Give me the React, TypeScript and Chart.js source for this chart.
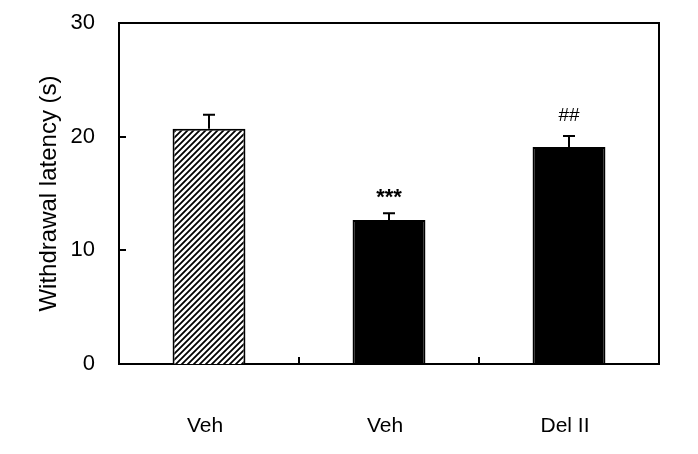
import React, { useEffect, useRef } from "react";
import { Chart, registerables } from "chart.js";

Chart.register(...registerables);

const categories = ["Veh", "Veh", "Del II"];
const means = [20.7, 12.67, 19.08];
const errors = [1.23, 0.59, 0.97];
const marks = ["", "***", "##"];
const yTickValues = [0, 10, 20, 30];
const yTitle = "Withdrawal latency (s)";

const FONT = "'Liberation Sans', Arial, sans-serif";

function makeHatch(): CanvasPattern | string {
  const c = document.createElement("canvas");
  c.width = 6;
  c.height = 6;
  const g = c.getContext("2d");
  if (!g) return "#fff";
  g.fillStyle = "#fff";
  g.fillRect(0, 0, 6, 6);
  g.strokeStyle = "#000";
  g.lineWidth = 1.8;
  g.beginPath();
  g.moveTo(0, 6);
  g.lineTo(6, 0);
  g.moveTo(-1, 1);
  g.lineTo(1, -1);
  g.moveTo(5, 7);
  g.lineTo(7, 5);
  g.stroke();
  return g.createPattern(c, "repeat") || "#fff";
}

const decorPlugin = {
  id: "decor",
  afterDatasetsDraw(chart: any) {
    const { ctx, chartArea } = chart;
    const xs = chart.scales.x;
    const ys = chart.scales.y;
    ctx.save();
    ctx.strokeStyle = "#000";
    ctx.fillStyle = "#000";
    ctx.lineWidth = 2;
    ctx.beginPath();
    ctx.moveTo(chartArea.left, chartArea.top);
    ctx.lineTo(chartArea.right, chartArea.top);
    ctx.lineTo(chartArea.right, chartArea.bottom);
    ctx.stroke();
    yTickValues.forEach((v) => {
      if (v === ys.min || v === ys.max) return;
      const py = Math.round(ys.getPixelForValue(v));
      ctx.beginPath();
      ctx.moveTo(chartArea.left, py);
      ctx.lineTo(chartArea.left + 7, py);
      ctx.stroke();
    });
    for (let i = 0; i < categories.length - 1; i++) {
      const px = Math.round((xs.getPixelForValue(i) + xs.getPixelForValue(i + 1)) / 2);
      ctx.beginPath();
      ctx.moveTo(px, chartArea.bottom);
      ctx.lineTo(px, chartArea.bottom - 7);
      ctx.stroke();
    }
    const meta = chart.getDatasetMeta(0);
    meta.data.forEach((bar: any, i: number) => {
      const x = bar.x;
      const yTop = ys.getPixelForValue(means[i]);
      const yErr = ys.getPixelForValue(means[i] + errors[i]);
      ctx.lineWidth = 2;
      ctx.beginPath();
      ctx.moveTo(x, yTop);
      ctx.lineTo(x, yErr);
      ctx.moveTo(x - 6, yErr);
      ctx.lineTo(x + 6, yErr);
      ctx.stroke();
      const m = marks[i];
      if (m) {
        ctx.textAlign = "center";
        ctx.textBaseline = "alphabetic";
        if (m.startsWith("*")) {
          ctx.font = `bold 22px ${FONT}`;
          ctx.fillText(m, x, yErr - 9);
        } else {
          ctx.font = `19px ${FONT}`;
          ctx.fillText(m, x, yErr - 15);
        }
      }
    });
    ctx.restore();
  },
};

export default function App() {
  const ref = useRef<HTMLCanvasElement | null>(null);
  useEffect(() => {
    if (!ref.current) return;
    const hatch = makeHatch();
    const chart = new Chart(ref.current, {
      type: "bar",
      data: {
        labels: categories,
        datasets: [
          {
            data: means,
            backgroundColor: [hatch, "#000", "#000"] as any,
            borderColor: "#000",
            borderWidth: 2,
            barPercentage: 0.405,
            categoryPercentage: 1,
          },
        ],
      },
      options: {
        responsive: false,
        animation: false,
        events: [],
        layout: { padding: { top: 23, right: 39, left: 0, bottom: 0 } },
        plugins: {
          legend: { display: false },
          tooltip: { enabled: false },
          title: { display: false },
        },
        scales: {
          x: {
            type: "category",
            grid: { display: false, drawTicks: false },
            border: { display: true, color: "#000", width: 2 },
            ticks: {
              color: "#000",
              font: { family: FONT, size: 21 },
              padding: 50,
              labelOffset: -4,
              maxRotation: 0,
            },
            afterFit: (s: any) => {
              s.height = 90;
              s.paddingLeft = 0;
              s.paddingRight = 0;
            },
          },
          y: {
            min: 0,
            max: 30,
            grid: { display: false, drawTicks: false },
            border: { display: true, color: "#000", width: 2 },
            ticks: {
              stepSize: 10,
              color: "#000",
              font: { family: FONT, size: 22 },
              padding: 24,
            },
            title: {
              display: true,
              text: yTitle,
              color: "#000",
              font: { family: FONT, size: 24 },
              padding: { top: 35, bottom: 0 },
            },
            afterFit: (s: any) => {
              s.width = 119;
              s.paddingTop = 0;
              s.paddingBottom = 0;
            },
          },
        },
      },
      plugins: [decorPlugin],
    });
    return () => chart.destroy();
  }, []);
  return (
    <div style={{ position: "absolute", left: 0, top: 0, width: 698, height: 454, background: "#fff" }}>
      <canvas ref={ref} width={698} height={454} />
    </div>
  );
}
